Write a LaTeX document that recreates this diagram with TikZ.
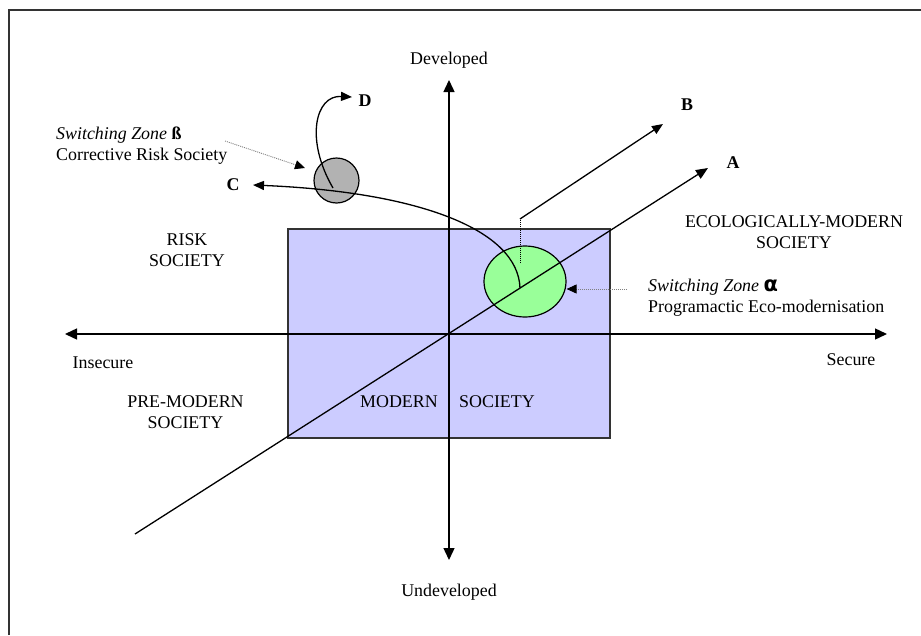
\documentclass[tikz,border=0pt]{standalone}
\usepackage{fontspec}
\setmainfont{Liberation Serif}
\newfontfamily\greekfont{DejaVu Sans}
\usetikzlibrary{arrows.meta,shapes.geometric}
\definecolor{modernfill}{HTML}{CCCCFF}
\definecolor{alphafill}{HTML}{99FF99}
\definecolor{betafill}{HTML}{B2B2B2}
\definecolor{framecol}{HTML}{333333}
\begin{document}
\begin{tikzpicture}[x=1pt,y=-1pt,
  lbl/.style={font=\fontsize{17.9}{21}\selectfont, inner sep=0pt, align=center},
  tag/.style={font=\fontsize{17.9}{21}\selectfont\bfseries, inner sep=0pt},
  axisline/.style={line width=1.4pt, {Triangle[length=12pt,width=11pt]}-{Triangle[length=12pt,width=11pt]}},
  route/.style={line width=1.3pt, -{Triangle[length=11pt,width=9pt]}},
  pointer/.style={line width=0.9pt, gray, dash pattern=on 1pt off 1pt, -{Triangle[length=10pt,width=9pt,color=black]}},
  zone/.style={draw=black, line width=1.2pt, inner sep=0pt}
]
\useasboundingbox (0,0) rectangle (921,635);

% page frame (top and left edges)
\draw[framecol, line width=2pt] (9,635) -- (9,10) -- (921,10);

% modern society box
\node[draw=framecol, line width=1.2pt, fill=modernfill, minimum width=322pt, minimum height=209pt, inner sep=0pt] (modern) at (449,333.5) {};

% switching zones
\node[zone, ellipse, fill=alphafill, minimum width=82pt, minimum height=71pt] (alpha) at (525,281.5) {};
\node[zone, circle, fill=betafill, minimum size=45pt] (beta) at (336.5,180.5) {};

% axes
\coordinate (north) at (449,80);
\coordinate (south) at (449,560);
\coordinate (west) at (65,334);
\coordinate (east) at (887,334);
\draw[axisline] (south) -- (north);
\draw[axisline] (west) -- (east);

% diagonal trajectory towards A
\coordinate (tail) at (135,534);
\coordinate (tipA) at (708,168);
\draw[line width=1.3pt, -{Triangle[length=12pt,width=10pt]}] (tail) -- (tipA);

% trajectory B (dotted stem from alpha zone)
\coordinate (stemB) at (520,263);
\coordinate (kneeB) at (520,219);
\coordinate (tipB) at (663,124);
\draw[line width=0.9pt, dash pattern=on 1pt off 1pt] (stemB) -- (kneeB);
\draw[route] (kneeB) -- (tipB);

% trajectory C (curved back through beta zone)
\coordinate (startC) at (520,288);
\coordinate (tipC) at (253,185);
\draw[route] (startC) .. controls (518,230) and (420,192) .. (tipC);

% trajectory D (from beta zone upwards)
\coordinate (startD) at (333,188);
\coordinate (tipD) at (352,97);
\draw[route] (startD) .. controls (305,140) and (315,95) .. (tipD);

% labels
\node[lbl] (dev) at (449,60) {Developed};
\node[lbl] (undev) at (449,592) {Undeveloped};
\node[lbl] (insec) at (103,363) {Insecure};
\node[lbl] (sec) at (851,360) {Secure};
\node[lbl] (risk) at (187,250) {RISK\\SOCIETY};
\node[lbl] (premod) at (185.5,412.5) {PRE-MODERN\\SOCIETY};
\node[lbl] (mod1) at (399,402) {MODERN};
\node[lbl] (mod2) at (497,402) {SOCIETY};
\node[lbl] (eco) at (794,232.5) {ECOLOGICALLY-MODERN\\SOCIETY};
\node[lbl, align=left, anchor=west] (zalpha) at (648,297.5) {\textit{Switching Zone} {\greekfont\bfseries\fontsize{21}{21}\selectfont α}\\Programactic Eco-modernisation};
\node[lbl, align=left, anchor=west] (zbeta) at (56,146) {\textit{Switching Zone} \textbf{ß}\\Corrective Risk Society};

\node[tag] (labA) at (733,163) {A};
\node[tag] (labB) at (687,105) {B};
\node[tag] (labC) at (233,185) {C};
\node[tag] (labD) at (365,101) {D};

% pointers from the zone captions
\coordinate (pa) at (627,289);
\draw[pointer] (pa) -- (alpha.east |- pa);
\coordinate (pb) at (225,141);
\coordinate (pbtip) at (305,168);
\draw[pointer] (pb) -- (pbtip);
\end{tikzpicture}
\end{document}
